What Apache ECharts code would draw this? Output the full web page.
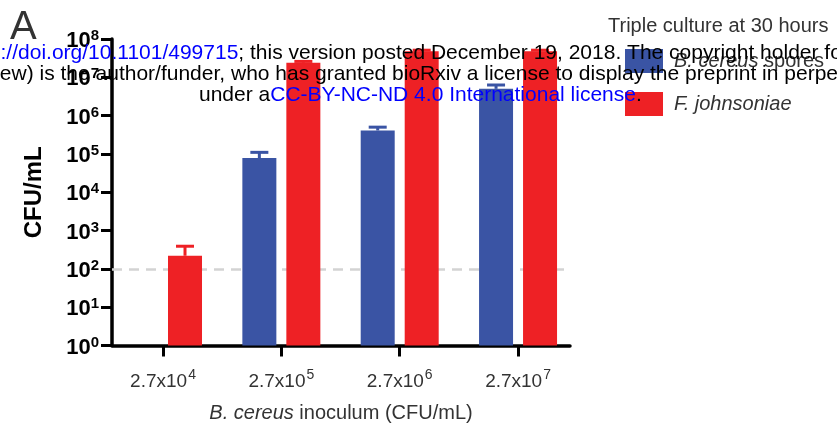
<!DOCTYPE html>
<html>
<head>
<meta charset="utf-8">
<script src="https://cdn.jsdelivr.net/npm/echarts@6/dist/echarts.min.js"></script>
<style>
  html, body { margin: 0; padding: 0; background: #fff; }
  #chart { width: 837px; height: 430px; }
</style>
</head>
<body>
<div id="chart"></div>
<script>
// Inoculum levels (CFU/mL), written as 2.7 x 10^n
const inoculumMantissa = '2.7';
const inoculumExponents = [4, 5, 6, 7];

// Y axis decades (10^0 .. 10^8)
const yMin = 1;
const yMax = 1e8;

// Mean CFU/mL and upper error-bar ends per inoculum level
const sporeName = 'B. cereus spores';
const sporeMean  = [null, 78000, 410000, 5000000];
const sporeUpper = [null, 110000, 500000, 6300000];

const flavoName = 'F. johnsoniae';
const flavoMean  = [220, 24000000, 48000000, 48000000];
const flavoUpper = [390, 26000000, 51000000, 51000000];

// Limit of detection
const detectionLimit = 100;

const FONT = '"Liberation Sans", Arial, Helvetica, sans-serif';
const BLUE = '#3A54A4';
const RED = '#EE2125';
const BAR_W = 34;
const BAR_OFFSET = 22;           // centre of each bar from the group centre
const CAP_HALF = 9;

const positions = inoculumExponents.map((e, i) => i + 1);

function barData(values) {
  return values.map((v, i) => v == null ? null : [positions[i], v]).filter(Boolean);
}
function errData(means, uppers) {
  return means.map((v, i) => v == null ? null : [positions[i], v, uppers[i]]).filter(Boolean);
}
function errorSeries(name, means, uppers, color, offset) {
  return {
    type: 'custom',
    name: name + ' error',
    data: errData(means, uppers),
    encode: { x: 0, y: [1, 2] },
    z: 3,
    silent: true,
    renderItem: function (params, api) {
      const base = api.coord([api.value(0), api.value(1)]);
      const top = api.coord([api.value(0), api.value(2)]);
      const cx = base[0] + offset;
      const style = { stroke: color, lineWidth: 3 };
      return {
        type: 'group',
        children: [
          { type: 'line', shape: { x1: cx, y1: base[1], x2: cx, y2: top[1] }, style: style },
          { type: 'line', shape: { x1: cx - CAP_HALF, y1: top[1], x2: cx + CAP_HALF, y2: top[1] }, style: style }
        ]
      };
    }
  };
}

// Rich-text styles for "10" with a raised exponent
const yRich = {
  b: { fontFamily: FONT, fontSize: 22, fontWeight: 'bold', color: '#000', lineHeight: 24, padding: [4, 0, 0, 0] },
  s: { fontFamily: FONT, fontSize: 15, fontWeight: 'bold', color: '#000', lineHeight: 16, padding: [0, 0, 6, 0] }
};
const xRich = {
  m: { fontFamily: FONT, fontSize: 19, color: '#333', lineHeight: 22 },
  t: { fontFamily: FONT, fontSize: 14, color: '#333', lineHeight: 14, padding: [0, 0, 13, 1] }
};

const chart = echarts.init(document.getElementById('chart'), null, { renderer: 'canvas' });

chart.setOption({
  animation: false,
  backgroundColor: '#fff',
  textStyle: { fontFamily: FONT },
  title: [
    { text: 'A', left: 5, top: 3, textStyle: { fontFamily: FONT, fontSize: 40, fontWeight: 'normal', color: '#333' } },
    { text: 'Triple culture at 30 hours', left: 603, top: 11, textStyle: { fontFamily: FONT, fontSize: 20, fontWeight: 'normal', color: '#333' } }
  ],
  legend: {
    data: [sporeName, flavoName],
    orient: 'vertical',
    left: 620,
    top: 44,
    icon: 'rect',
    itemWidth: 38,
    itemHeight: 24,
    itemGap: 19,
    formatter: function (name) {
      if (name === sporeName) return '{i|B. cereus} spores';
      return '{i|' + name + '}';
    },
    textStyle: {
      fontFamily: FONT, fontSize: 20, color: '#333', padding: [0, 0, 0, 6],
      rich: { i: { fontFamily: FONT, fontSize: 20, fontStyle: 'italic', color: '#333' } }
    }
  },
  grid: { left: 112, right: 267, top: 39, bottom: 84.5, containLabel: false },
  xAxis: {
    type: 'value',
    min: 0.569,
    max: 4.439,
    splitLine: { show: false },
    axisLine: { show: true, onZero: false, lineStyle: { color: '#000', width: 3.5 } },
    axisTick: { show: true, customValues: positions, length: 11, lineStyle: { color: '#000', width: 3 } },
    axisLabel: {
      customValues: positions,
      margin: 25,
      formatter: function (v) {
        const i = Math.round(v) - 1;
        return '{m|' + inoculumMantissa + 'x10}{t|' + inoculumExponents[i] + '}';
      },
      rich: xRich
    },
    name: '{i|B. cereus} inoculum (CFU/mL)',
    nameLocation: 'middle',
    nameGap: 58,
    nameTextStyle: {
      fontFamily: FONT, fontSize: 20, color: '#333',
      rich: { i: { fontFamily: FONT, fontSize: 20, fontStyle: 'italic', color: '#333' } }
    }
  },
  yAxis: {
    type: 'log',
    logBase: 10,
    min: yMin,
    max: yMax,
    interval: 1,
    splitLine: { show: false },
    axisLine: { show: true, lineStyle: { color: '#000', width: 3.5 } },
    axisTick: { show: true, length: 11, lineStyle: { color: '#000', width: 3 } },
    axisLabel: {
      margin: 13,
      formatter: function (v) {
        return '{b|10}{s|' + Math.round(Math.log10(v)) + '}';
      },
      rich: yRich
    },
    name: 'CFU/mL',
    nameLocation: 'middle',
    nameGap: 66,
    nameTextStyle: { fontFamily: FONT, fontSize: 24, fontWeight: 'bold', color: '#000' }
  },
  series: [
    {
      type: 'bar',
      name: sporeName,
      data: barData(sporeMean),
      barWidth: BAR_W,
      barGap: ((2 * BAR_OFFSET - BAR_W) / BAR_W * 100).toFixed(1) + '%',
      itemStyle: { color: BLUE },
      z: 2,
      markLine: {
        silent: true,
        symbol: 'none',
        z: 1,
        label: { show: false },
        lineStyle: { color: '#D3D3D3', type: [10, 7], width: 2.5 },
        data: [{ yAxis: detectionLimit }]
      }
    },
    {
      type: 'bar',
      name: flavoName,
      data: barData(flavoMean),
      barWidth: BAR_W,
      itemStyle: { color: RED },
      z: 2
    },
    errorSeries(sporeName, sporeMean, sporeUpper, BLUE, -BAR_OFFSET),
    errorSeries(flavoName, flavoMean, flavoUpper, RED, BAR_OFFSET)
  ],
  graphic: [
    {
      type: 'text', left: -45, top: 43, z: 200, silent: true,
      style: {
        text: '{l|https://doi.org/10.1101/499715}; this version posted December 19, 2018. The copyright holder for this preprint',
        font: '21px ' + FONT, fill: '#000',
        rich: { l: { fontFamily: FONT, fontSize: 21, fill: '#0000FF', color: '#0000FF' } }
      }
    },
    {
      type: 'text', left: -34, top: 64, z: 200, silent: true,
      style: {
        text: 'review) is the author/funder, who has granted bioRxiv a license to display the preprint in perpetuity. It is made available',
        font: '21px ' + FONT, fill: '#000'
      }
    },
    {
      type: 'text', left: 199, top: 85, z: 200, silent: true,
      style: {
        text: 'under a{l|CC-BY-NC-ND 4.0 International license}.',
        font: '21px ' + FONT, fill: '#000',
        rich: { l: { fontFamily: FONT, fontSize: 21, fill: '#0000FF', color: '#0000FF' } }
      }
    }
  ]
});
</script>
</body>
</html>
